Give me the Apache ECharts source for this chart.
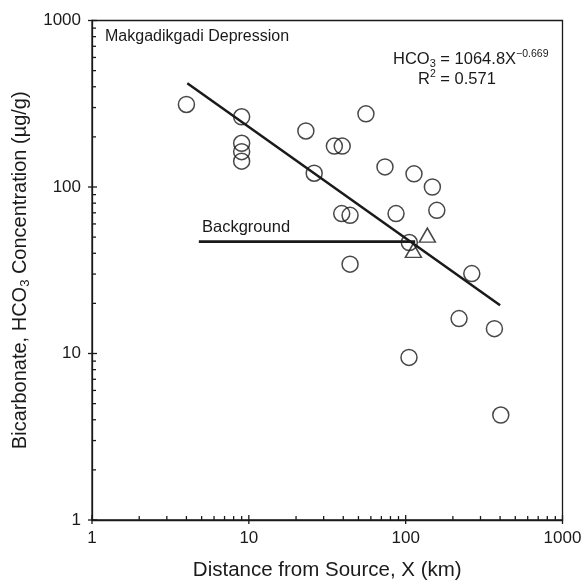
<!DOCTYPE html>
<html>
<head>
<meta charset="utf-8">
<script src="https://cdn.jsdelivr.net/npm/echarts@6/dist/echarts.min.js"></script>
<style>
html,body{margin:0;padding:0;background:#fff;}
#main{width:586px;height:580px;}
</style>
</head>
<body>
<div id="main"></div>
<script>
// ---- data ----
const xTickLabels = [1, 10, 100, 1000];
const yTickLabels = [1, 10, 100, 1000];
const minorTickValues = [2,3,4,5,6,7,8,9,20,30,40,50,60,70,80,90,200,300,400,500,600,700,800,900];

const circleX = [4.0, 9.0, 9.0, 9.0, 9.0, 23.1, 35.1, 39.4, 55.8, 26.1, 73.8, 113, 148, 158, 39.1, 44.2, 86.8, 105.5, 44.2, 264, 219, 368, 105, 404];
const circleY = [313, 264, 183, 163, 143, 217, 176, 176, 275, 121, 132, 120, 100, 72.4, 69.2, 67.6, 69.2, 46.4, 34.4, 30.2, 16.2, 14.1, 9.47, 4.27];

const triangleX = [137.5, 112];
const triangleY = [51.4, 41.6];

const fitLineX = [4.05, 400];
const fitLineY = [420, 19.5];

const backgroundX = [4.8, 115];
const backgroundY = [47, 47];

// ---- build ----
const FONT = 'Liberation Sans, Arial, Helvetica, sans-serif';
const INK = '#1a1a1a';
const zip = (a, b) => a.map((v, i) => [v, b[i]]);
const isMajor = v => Math.abs(Math.log10(v) - Math.round(Math.log10(v))) < 1e-9;

const allTicks = xTickLabels.concat(minorTickValues);
const xTickData = allTicks.map(v => [v, yTickLabels[0]]);
const yTickData = allTicks.map(v => [xTickLabels[0], v]);

function xTickItem(params, api) {
  const v = api.value(0);
  const p = api.coord([v, api.value(1)]);
  const m = isMajor(v);
  return {type: 'line', shape: {x1: p[0], y1: p[1] + (m ? 4 : 0), x2: p[0], y2: p[1] - (m ? 5 : 4)},
          style: {stroke: INK, lineWidth: 1.3}};
}
function yTickItem(params, api) {
  const v = api.value(1);
  const p = api.coord([api.value(0), v]);
  const m = isMajor(v);
  return {type: 'line', shape: {x1: p[0] - (m ? 4 : 0), y1: p[1], x2: p[0] + (m ? 5 : 4), y2: p[1]},
          style: {stroke: INK, lineWidth: 1.3}};
}
const plainLabel = v => String(Math.round(v));

const chart = echarts.init(document.getElementById('main'), null, {renderer: 'canvas'});
chart.setOption({
  animation: false,
  backgroundColor: '#fff',
  textStyle: {fontFamily: FONT, color: INK},
  grid: {left: 92, right: 23.5, top: 20.5, bottom: 60, show: true, borderColor: INK, borderWidth: 1.3,
         containLabel: false, outerBoundsMode: 'none'},
  xAxis: {
    type: 'log', logBase: 10, min: xTickLabels[0], max: xTickLabels[xTickLabels.length - 1],
    name: 'Distance from Source, X (km)', nameLocation: 'middle', nameGap: 40,
    nameTextStyle: {fontSize: 20.5, color: INK, fontFamily: FONT},
    axisLine: {lineStyle: {color: INK, width: 1.3}},
    axisTick: {show: false}, minorTick: {show: false},
    splitLine: {show: false},
    axisLabel: {fontSize: 17, color: INK, margin: 10, showMinLabel: true, showMaxLabel: true, fontFamily: FONT, formatter: plainLabel}
  },
  yAxis: {
    type: 'log', logBase: 10, min: yTickLabels[0], max: yTickLabels[yTickLabels.length - 1],
    name: 'Bicarbonate, HCO{sub|3} Concentration (µg/g)', nameLocation: 'middle', nameGap: 55,
    nameTextStyle: {fontSize: 20, color: INK, fontFamily: FONT, lineHeight: 24,
      rich: {sub: {fontSize: 13, lineHeight: 5, verticalAlign: 'bottom', color: INK, fontFamily: FONT}}},
    axisLine: {lineStyle: {color: INK, width: 1.3}},
    axisTick: {show: false}, minorTick: {show: false},
    splitLine: {show: false},
    axisLabel: {fontSize: 17, color: INK, margin: 11, showMinLabel: true, showMaxLabel: true, fontFamily: FONT, formatter: plainLabel}
  },
  series: [
    {type: 'custom', coordinateSystem: 'cartesian2d', data: xTickData, renderItem: xTickItem, clip: false, silent: true, z: 5, encode: {x: 0, y: 1}},
    {type: 'custom', coordinateSystem: 'cartesian2d', data: yTickData, renderItem: yTickItem, clip: false, silent: true, z: 5, encode: {x: 0, y: 1}},
    {type: 'line', data: zip(fitLineX, fitLineY), symbol: 'none', lineStyle: {color: INK, width: 2.5}, z: 3, silent: true},
    {type: 'line', data: zip(backgroundX, backgroundY), symbol: 'none', lineStyle: {color: INK, width: 2.8}, z: 3, silent: true},
    {type: 'scatter', data: zip(circleX, circleY), symbol: 'circle', symbolSize: 16,
      itemStyle: {color: 'rgba(0,0,0,0)', borderColor: INK, borderWidth: 1.5}, z: 4, silent: true},
    {type: 'scatter', data: zip(triangleX, triangleY), symbol: 'triangle', symbolSize: [16, 14],
      itemStyle: {color: 'rgba(0,0,0,0)', borderColor: INK, borderWidth: 1.5}, z: 4, silent: true}
  ],
  graphic: [
    {type: 'text', left: 105, top: 29, style: {text: 'Makgadikgadi Depression', fontSize: 16, fontFamily: FONT, fill: INK}},
    {type: 'text', x: 393, y: 59, style: {text: 'HCO{sub|3} = 1064.8X{sup|\u22120.669}', fontSize: 16.5, lineHeight: 20, fontFamily: FONT, fill: INK,
      verticalAlign: 'middle', align: 'left',
      rich: {sub: {fontSize: 11, lineHeight: 4.6, verticalAlign: 'bottom', fontFamily: FONT, fill: INK},
             sup: {fontSize: 10.5, lineHeight: 10, verticalAlign: 'top', fontFamily: FONT, fill: INK}}}},
    {type: 'text', x: 418, y: 79, style: {text: 'R{sup|2} = 0.571', fontSize: 16.5, lineHeight: 20, fontFamily: FONT, fill: INK,
      verticalAlign: 'middle', align: 'left',
      rich: {sup: {fontSize: 10.5, lineHeight: 8.6, verticalAlign: 'top', fontFamily: FONT, fill: INK}}}},
    {type: 'text', x: 202, y: 227.5, style: {text: 'Background', fontSize: 16.5, fontFamily: FONT, fill: INK, verticalAlign: 'middle', align: 'left'}}
  ]
});
</script>
</body>
</html>
